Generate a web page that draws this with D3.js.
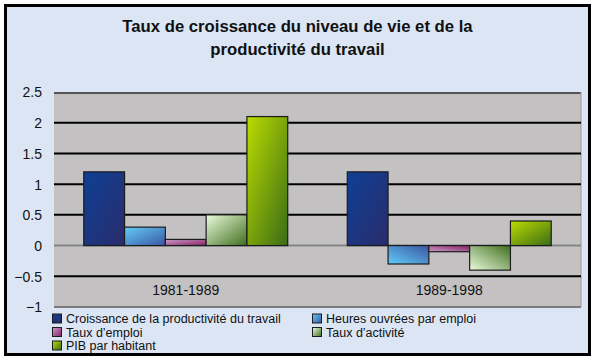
<!DOCTYPE html>
<html><head><meta charset="utf-8">
<script src="https://cdn.jsdelivr.net/npm/d3@7"></script>
<style>html,body{margin:0;padding:0;background:#fff;}svg{display:block;}</style>
</head><body>
<script>
const titleLines = ["Taux de croissance du niveau de vie et de la", "productivité du travail"];
const categories = ["1981-1989", "1989-1998"];
const seriesNames = ["Croissance de la productivité du travail", "Heures ouvrées par emploi", "Taux d’emploi", "Taux d’activité", "PIB par habitant"];
const values1981 = [1.2, 0.3, 0.1, 0.5, 2.1];
const values1989 = [1.2, -0.3, -0.1, -0.4, 0.4];
const yTicks = [-1, -0.5, 0, 0.5, 1, 1.5, 2, 2.5];
const gridValues = [-0.5, 0.5, 1, 1.5, 2];
const colorStops = [["#0e3f94", "#2a2c6c"], ["#62ccfa", "#3a56a0"], ["#cc9ccc", "#862060"], ["#ecfcdc", "#3e6e1e"], ["#bcdc00", "#3a6c16"]];

const W = 595, H = 360;
const svg = d3.select("body").append("svg").attr("width", W).attr("height", H);
const defs = svg.append("defs");
colorStops.forEach((c, i) => {
  [["p", 0, 0, 1, 1], ["n", 0, 1, 1, 0]].forEach(([k, x1, y1, x2, y2]) => {
    const g = defs.append("linearGradient").attr("id", `g${k}${i}`)
      .attr("x1", x1).attr("y1", y1).attr("x2", x2).attr("y2", y2);
    g.append("stop").attr("offset", "0%").attr("stop-color", c[0]);
    g.append("stop").attr("offset", "100%").attr("stop-color", c[1]);
  });
});

// background panel and frame
svg.append("rect").attr("x", 5.5).attr("y", 5.5).attr("width", 584).attr("height", 349)
  .attr("fill", "#dbe5f4").attr("stroke", "#000").attr("stroke-width", 3);

// title
svg.append("g").selectAll("text").data(titleLines).join("text")
  .attr("x", 297.5).attr("y", (d, i) => 32 + i * 23)
  .attr("text-anchor", "middle").attr("font-family", "Liberation Sans, Arial, sans-serif")
  .attr("font-weight", "bold").attr("font-size", 16.7).attr("fill", "#111").text(d => d);

const plot = {l: 54, r: 581, t: 92, b: 307};
const y = d3.scaleLinear().domain([-1, 2.5]).range([plot.b, plot.t]);
const x0 = d3.scaleBand().domain(categories).range([plot.l, plot.r]).paddingInner(0.226).paddingOuter(0.113);
const x1 = d3.scaleBand().domain(d3.range(seriesNames.length)).range([0, x0.bandwidth()]);

// plot area
svg.append("rect").attr("x", plot.l).attr("y", plot.t).attr("width", plot.r - plot.l).attr("height", plot.b - plot.t)
  .attr("fill", "#c3c1c1");
svg.append("line").attr("x1", plot.l).attr("x2", plot.r).attr("y1", plot.t + 1).attr("y2", plot.t + 1)
  .attr("stroke", "#555").attr("stroke-width", 2);
svg.append("line").attr("x1", plot.l).attr("x2", plot.r).attr("y1", plot.b).attr("y2", plot.b)
  .attr("stroke", "#7a7a7a").attr("stroke-width", 2);
svg.append("line").attr("x1", plot.r).attr("x2", plot.r).attr("y1", plot.t).attr("y2", plot.b)
  .attr("stroke", "#9a9a9a").attr("stroke-width", 1);

// gridlines
svg.append("g").selectAll("line").data(gridValues).join("line")
  .attr("x1", plot.l).attr("x2", plot.r).attr("y1", d => y(d)).attr("y2", d => y(d))
  .attr("stroke", "#000").attr("stroke-width", 2);
svg.append("line").attr("x1", plot.l).attr("x2", plot.r).attr("y1", y(0)).attr("y2", y(0))
  .attr("stroke", "#858585").attr("stroke-width", 2);

// y axis labels
const yAxis = d3.axisLeft(y).tickValues(yTicks).tickSize(0).tickPadding(0).tickFormat(d3.format("~g"));
const ya = svg.append("g").attr("transform", `translate(${42},0)`).call(yAxis);
ya.select(".domain").remove();
ya.selectAll("text").attr("font-family", "Liberation Sans, Arial, sans-serif").attr("font-size", 14).attr("fill", "#111").attr("dy", "0.35em").attr("text-anchor", "end");

// category labels
svg.append("g").selectAll("text").data(categories).join("text")
  .attr("x", d => x0(d) + x0.bandwidth() / 2).attr("y", 295)
  .attr("text-anchor", "middle").attr("font-family", "Liberation Sans, Arial, sans-serif")
  .attr("font-size", 14).attr("fill", "#111").text(d => d);

// bars
const data = [values1981, values1989];
const groups = svg.append("g").selectAll("g").data(categories).join("g")
  .attr("transform", d => `translate(${x0(d)},0)`);
groups.selectAll("rect").data((d, ci) => data[ci].map((v, si) => ({v, si}))).join("rect")
  .attr("x", d => x1(d.si)).attr("width", x1.bandwidth())
  .attr("y", d => y(Math.max(0, d.v))).attr("height", d => Math.abs(y(d.v) - y(0)))
  .attr("fill", d => `url(#g${d.v >= 0 ? "p" : "n"}${d.si})`)
  .attr("stroke", "#1c1c1c").attr("stroke-width", 1.2);

// legend
const legend = svg.append("g").selectAll("g").data(seriesNames).join("g")
  .attr("transform", (d, i) => `translate(${i % 2 === 0 ? 52 : 312},${318.5 + Math.floor(i / 2) * 13.5})`);
legend.append("rect").attr("x", 0.5).attr("y", -4.5).attr("width", 9).attr("height", 9)
  .attr("fill", (d, i) => `url(#gp${i})`).attr("stroke", "#1c1c1c").attr("stroke-width", 1);
legend.append("text").attr("x", 14).attr("y", 0).attr("dy", "0.36em")
  .attr("font-family", "Liberation Sans, Arial, sans-serif").attr("font-size", 12.5).attr("fill", "#111")
  .text(d => d);
</script>
</body></html>
